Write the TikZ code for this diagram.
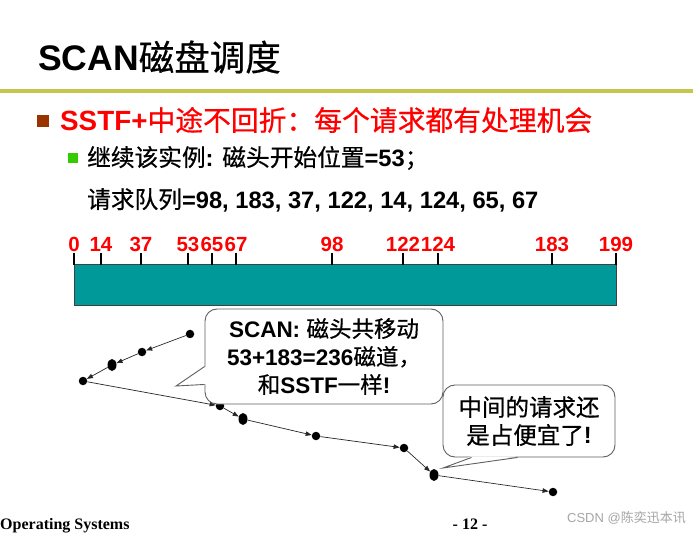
\documentclass[tikz,border=0pt]{standalone}
\usepackage{fontspec}
\setmainfont{Liberation Sans}
\newfontfamily\cjk{Noto Sans CJK SC}[FakeBold=0.6]
\newfontfamily\cjklight{Noto Sans CJK SC}
\newfontfamily\footfont{Liberation Serif}
\usetikzlibrary{arrows.meta,positioning,shapes.geometric}
\definecolor{slidered}{RGB}{255,0,0}
\definecolor{bulletbrown}{RGB}{153,51,0}
\definecolor{bulletgreen}{RGB}{51,204,0}
\definecolor{ruleolive}{RGB}{198,198,76}
\definecolor{trackteal}{RGB}{0,153,153}
\definecolor{bubblegray}{RGB}{96,96,96}
\newcommand{\hanzi}[1]{{\cjk\mdseries #1}}
\tikzset{
  slidetitle/.style={anchor=west, inner sep=0pt, font=\fontsize{35.5}{40}\selectfont\bfseries},
  titlerule/.style={draw=ruleolive, line width=3.5pt},
  bulletsq/.style={rectangle, inner sep=0pt, minimum size=#1},
  pointtext/.style={anchor=west, inner sep=0pt, text=slidered, font=\fontsize{27.8}{32}\selectfont},
  subtext/.style={anchor=west, inner sep=0pt, font=\fontsize{23.7}{28}\selectfont},
  tracklabel/.style={inner sep=0pt, text=slidered, font=\fontsize{20.5}{24}\selectfont\bfseries},
  tickline/.style={line width=1.6pt},
  trackbar/.style={fill=trackteal, draw=black!75, line width=1pt},
  headdot/.style={circle, fill=black, inner sep=0pt, minimum size=8.5pt},
  headdotwide/.style={ellipse, fill=black, inner sep=0pt, minimum width=9pt, minimum height=12pt},
  headmove/.style={-{Triangle[length=6pt,width=4.5pt]}, draw=black!85, line width=0.7pt},
  bubble/.style={draw=bubblegray, fill=white, line width=0.9pt, rounded corners=12pt,
    inner sep=0pt, align=center},
  bubbleedge/.style={draw=bubblegray, line width=0.9pt},
  footer/.style={inner sep=0pt, font=\footfont\fontsize{16}{18}\selectfont\bfseries},
  watermark/.style={inner sep=0pt, text=black!35, font=\fontsize{13}{15}\selectfont}
}
\newcommand{\trackmark}[2]{%
  \coordinate (foot#1) at (#2,265);
  \coordinate (top#1) at (#2,253);
  \draw[tickline] (foot#1) -- (top#1);
  \node[tracklabel] (lab#1) at (#2,244) {#1};%
}

\begin{document}
\begin{tikzpicture}[x=1pt,y=-1pt]
    \useasboundingbox (0,0) rectangle (693,534);
    \fill[white] (0,0) rectangle (693,534);
    \clip (0,0) rectangle (693,534);

    % title and rule
    \node[slidetitle] (title) at (38,57) {SCAN\hanzi{磁盘调度}};
    \coordinate (ruleleft) at (0,91);
    \coordinate (ruleright) at (693,91);
    \draw[titlerule] (ruleleft) -- (ruleright);

    % bullet points
    \node[bulletsq=12pt, fill=bulletbrown] (mainbullet) at (43,121) {};
    \node[pointtext] (mainpoint) at (60,120)
         {{\bfseries SSTF+}\hanzi{中途不回折：每个请求都有处理机会}};
    \node[bulletsq=10pt, fill=bulletgreen] (subbullet) at (73,158) {};
    \node[subtext] (startpos) at (87,158)
         {\hanzi{继续该实例}{\bfseries :} \hanzi{磁头开始位置}{\bfseries =53}\hanzi{；}};
    \node[subtext] (queue) at (87,200)
         {\hanzi{请求队列}{\bfseries =98, 183, 37, 122, 14, 124, 65, 67}};

    % the track bar
    \draw[trackbar] (74,265) rectangle (616,306);
    \trackmark{0}{74}
    \trackmark{14}{101}
    \trackmark{37}{141}
    \trackmark{53}{188}
    \trackmark{65}{212}
    \trackmark{67}{236}
    \trackmark{98}{332}
    \trackmark{122}{403}
    \trackmark{124}{438}
    \trackmark{183}{552}
    \trackmark{199}{616}

    % head movement
    \node[headdot] (h53) at (190,334) {};
    \node[headdot] (h37) at (142,352) {};
    \node[headdotwide] (h14) at (112,365) {};
    \node[headdot] (h0) at (83,381) {};
    \node[headdot] (h65) at (220,406) {};
    \node[headdotwide] (h67) at (243,419) {};
    \node[headdot] (h98) at (316,436) {};
    \node[headdot] (h122) at (404,448) {};
    \node[headdotwide] (h124) at (434,475) {};
    \node[headdot] (h183) at (553,492) {};
    \draw[headmove] (h53) -- (h37);
    \draw[headmove] (h37) -- (h14);
    \draw[headmove] (h14) -- (h0);
    \draw[headmove] (h0) -- (h65);
    \draw[headmove] (h65) -- (h67);
    \draw[headmove] (h67) -- (h98);
    \draw[headmove] (h98) -- (h122);
    \draw[headmove] (h122) -- (h124);
    \draw[headmove] (h124) -- (h183);

    % callouts
    \node[bubble, minimum width=238pt, minimum height=95pt, font=\fontsize{22.5}{28}\selectfont]
         (scan) at (324,356.5)
         {{\bfseries SCAN:} \hanzi{磁头共移动}\\
          {\bfseries 53+183=236}\hanzi{磁道，}\\
          \hanzi{和}{\bfseries SSTF}\hanzi{一样}{\bfseries !}};
    \coordinate (scantip) at (176,386);
    \fill[white] ([xshift=1.2pt,yshift=-58pt]scan.north west) -- (scantip)
         -- ([xshift=1.2pt,yshift=20pt]scan.south west) -- cycle;
    \draw[bubbleedge] ([yshift=-58pt]scan.north west) -- (scantip) -- ([yshift=20pt]scan.south west);

    \node[bubble, minimum width=172pt, minimum height=72pt, font=\fontsize{23.5}{28}\selectfont]
         (cheap) at (529,421)
         {\hanzi{中间的请求还}\\ \hanzi{是占便宜了}{\bfseries !}};
    \coordinate (cheaptip) at (443,468);
    \fill[white] ([xshift=29pt,yshift=1.2pt]cheap.south west) -- (cheaptip)
         -- ([xshift=75pt,yshift=1.2pt]cheap.south west) -- cycle;
    \draw[bubbleedge] ([xshift=29pt]cheap.south west) -- (cheaptip) -- ([xshift=75pt]cheap.south west);

    % footer
    \node[footer, anchor=base west] (course) at (0,529) {Operating Systems};
    \node[footer, anchor=base] (pageno) at (470,529) {- 12 -};
    \node[watermark, anchor=east] (mark) at (686,518) {CSDN @{\cjklight 陈奕迅本讯}};
\end{tikzpicture}
\end{document}
